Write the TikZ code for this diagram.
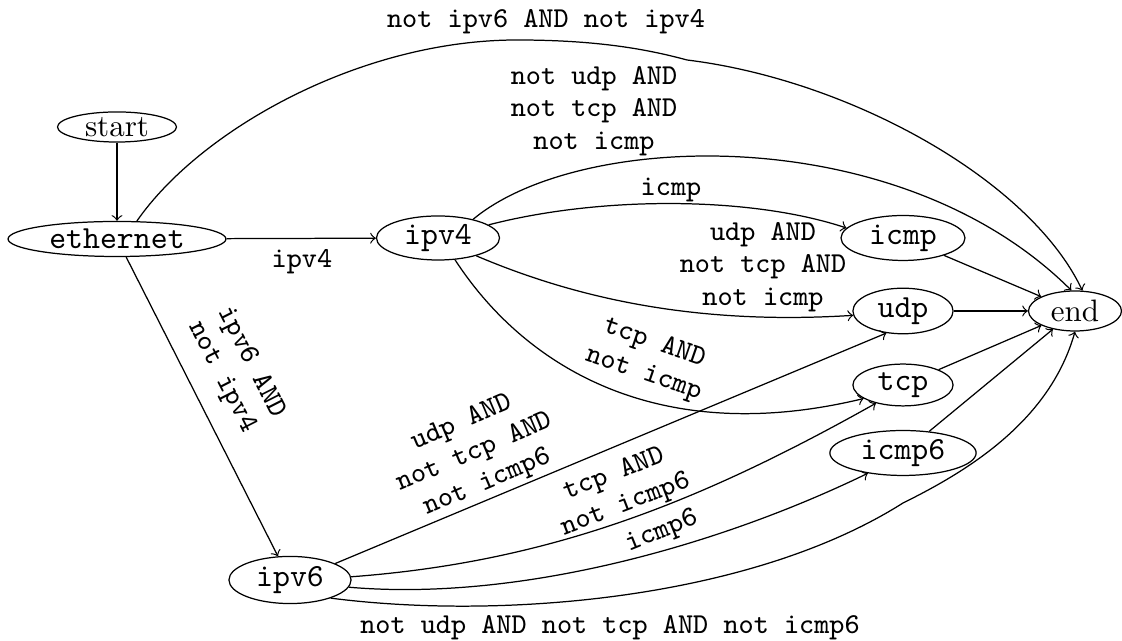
\documentclass[tikz,border=0pt]{standalone}
\usetikzlibrary{shapes.geometric}
\begin{document}
\tikzset{
  st/.style={draw, ellipse, inner sep=0pt, font=\fontsize{10.4}{12}\selectfont\ttfamily},
  rmst/.style={st, font=\fontsize{10}{12}\selectfont\rmfamily},
  lbl/.style={inner sep=0pt, align=center, font=\fontsize{9.3}{10.5}\selectfont\ttfamily},
  conn/.style={->, line width=0.4pt},
}
\begin{tikzpicture}[x=0.3226pt, y=-0.3226pt]
\useasboundingbox (0,0) rectangle (1122,641);
% nodes
\node[rmst, minimum width=38.4pt, minimum height=9.7pt] (start) at (117,127) {start};
\node[st, minimum width=70.3pt, minimum height=11.3pt] (eth) at (117,239) {ethernet};
\node[st, minimum width=39.7pt, minimum height=14.2pt] (ipv4) at (438,238) {ipv4};
\node[st, minimum width=40pt, minimum height=14.5pt] (icmp) at (903,238) {icmp};
\node[st, minimum width=32.3pt, minimum height=14.7pt] (udp) at (903,311) {udp};
\node[rmst, minimum width=30pt, minimum height=12.9pt] (end) at (1075,311) {end};
\node[st, minimum width=32.3pt, minimum height=13.5pt] (tcp) at (903,385) {tcp};
\node[st, minimum width=47.2pt, minimum height=14.5pt] (icmp6) at (903,453) {icmp6};
\node[st, minimum width=39.4pt, minimum height=15.2pt] (ipv6) at (290,580) {ipv6};
% connectors
\draw[conn] (start) -- (eth);
\draw[conn] (eth) -- (ipv4);
\draw[conn] (eth) -- (ipv6);
\draw[conn] (eth.42) .. controls (200,130) and (360,40) .. (517,40)
  .. controls (600,40) and (650,50) .. (687,60)
  .. controls (850,80) and (1030,180) .. (end.70);
\draw[conn] (ipv4.28) .. controls (580,130) and (900,120) .. (end.100);
\draw[conn] (ipv4) .. controls (600,196) and (750,196) .. (icmp.170);
\draw[conn] (ipv4.335) .. controls (580,300) and (700,325) .. (udp.185);
\draw[conn] (ipv4.308) .. controls (520,360) and (650,450) .. (tcp.199);
\draw[conn] (icmp) -- (end);
\draw[conn] (udp) -- (end);
\draw[conn] (tcp) -- (end);
\draw[conn] (icmp6) -- (end);
\draw[conn] (ipv6.20) -- (udp.233);
\draw[conn] (ipv6.3) .. controls (550,562) and (700,502) .. (tcp.214);
\draw[conn] (ipv6.353) .. controls (520,602) and (720,545) .. (icmp6.210);
\draw[conn] (ipv6.336) .. controls (500,620) and (750,600) .. (903,503)
  .. controls (970,470) and (1050,420) .. (end.270);
% labels
\node[lbl] (l1) at (302,262) {ipv4};
\node[lbl] (l2) at (546,22) {not ipv6 AND not ipv4};
\node[lbl] (l3) at (594,111) {not udp AND\\not tcp AND\\not icmp};
\node[lbl] (l4) at (671,190) {icmp};
\node[lbl] (l5) at (763,267) {udp AND\\not tcp AND\\not icmp};
\node[lbl, rotate=-19] (l6) at (649,359) {tcp AND\\not icmp};
\node[lbl, rotate=-63] (l7) at (236,370) {ipv6 AND\\not ipv4};
\node[lbl, rotate=23] (l8) at (475,453) {udp AND\\not tcp AND\\not icmp6};
\node[lbl, rotate=21] (l9) at (620,490) {tcp AND\\not icmp6};
\node[lbl, rotate=22] (l10) at (662,532) {icmp6};
\node[lbl] (l11) at (610,628) {not udp AND not tcp AND not icmp6};
\end{tikzpicture}
\end{document}
